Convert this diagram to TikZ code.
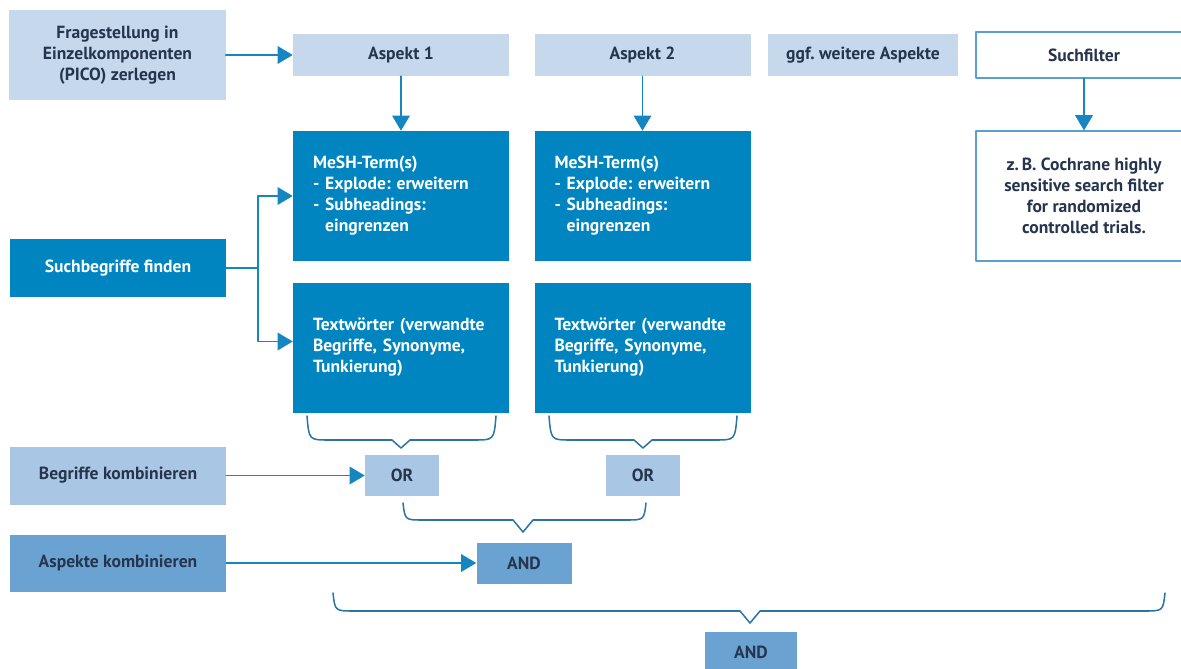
\documentclass[tikz,border=0pt]{standalone}
\usepackage{fontspec}
\setmainfont{PT Sans}
\usepackage{xcolor}
\usepackage{tikz}
\usetikzlibrary{arrows.meta}
\definecolor{hellblau}{HTML}{C6D9EC}
\definecolor{mittelhell}{HTML}{A9C7E5}
\definecolor{mittelblau}{HTML}{6AA3D2}
\definecolor{dunkelblau}{HTML}{0085C0}
\definecolor{pfeilblau}{HTML}{1686C1}
\definecolor{rahmenblau}{HTML}{5B9FD0}
\definecolor{schrift}{HTML}{26354D}
\definecolor{klammerblau}{HTML}{2C74A3}
\frenchspacing

\begin{document}
\begin{tikzpicture}[line cap=round,line join=round,x=0.03cm,y=-0.03cm,
		box/.style={minimum width=6.48cm,inner sep=0pt,font=\fontsize{15}{17.9}\selectfont\bfseries,text=schrift,align=center},
		hell/.style={box,fill=hellblau},
		mhell/.style={box,fill=mittelhell},
		mittel/.style={box,fill=mittelblau},
		dunkel/.style={box,fill=dunkelblau,text=white},
		liste/.style={dunkel,align=left,text width=5.28cm,inner xsep=0.6cm,minimum height=3.9cm},
		rahmen/.style={box,draw=rahmenblau,line width=0.9pt,fill=white},
		pfeil/.style={draw=pfeilblau,line width=1.6pt,-{Triangle[length=13pt,width=15pt]}},
		klammer/.style={draw=klammerblau,line width=1.3pt}]
		\useasboundingbox (0,0) rectangle (1181,668);
		% obere Reihe
		\node[hell,minimum height=2.7cm] (frage) at (117.5,55) {Fragestellung in\\Einzelkomponenten\\(PICO) zerlegen};
		\node[hell,minimum height=1.26cm] (asp1) at (401,55) {Aspekt 1};
		\node[hell,minimum height=1.26cm] (asp2) at (642.5,55) {Aspekt 2};
		\node[hell,minimum width=5.7cm,minimum height=1.26cm] (weitere) at (863,55) {ggf. weitere Aspekte};
		\node[rahmen,minimum height=1.38cm] (suchf) at (1084,55) {Suchfilter};
		\node[rahmen,minimum height=3.9cm] (filter) at (1084,196) {z.\,B. Cochrane highly\\sensitive search filter\\for randomized\\controlled trials.};
		% Suchbegriffe
		\node[dunkel,minimum height=1.74cm] (such) at (118,268) {Suchbegriffe finden};
		\node[liste] (mesh1) at (401,196) {MeSH-Term(s)\\- Explode: erweitern\\- Subheadings:\\\phantom{-}\ eingrenzen};
		\node[liste] (mesh2) at (642.5,196) {MeSH-Term(s)\\- Explode: erweitern\\- Subheadings:\\\phantom{-}\ eingrenzen};
		\node[liste] (wort1) at (401,347.5) {Textwörter (verwandte\\Begriffe, Synonyme,\\Tunkierung)};
		\node[liste] (wort2) at (642.5,347.5) {Textwörter (verwandte\\Begriffe, Synonyme,\\Tunkierung)};
		% kombinieren
		\node[mhell,minimum height=1.74cm] (begr) at (118,475.5) {Begriffe kombinieren};
		\node[mhell,minimum width=2.22cm,minimum height=1.23cm] (or1) at (402,475.5) {OR};
		\node[mhell,minimum width=2.22cm,minimum height=1.23cm] (or2) at (643,475.5) {OR};
		\node[mittel,minimum height=1.71cm] (aspk) at (118,563) {Aspekte kombinieren};
		\node[mittel,minimum width=2.85cm,minimum height=1.23cm] (and1) at (524,563) {AND};
		\node[mittel,minimum width=2.76cm,minimum height=1.23cm] (and2) at (751,652.5) {AND};
		% Pfeile
		\draw[pfeil] (frage.east) -- (asp1.west);
		\draw[pfeil] (asp1.south) -- (mesh1.north);
		\draw[pfeil] (asp2.south) -- (mesh2.north);
		\draw[pfeil] (suchf.south) -- (filter.north);
		\draw[pfeil] (such.east) -- ++(32,0) |- (mesh1.west);
		\draw[pfeil] (such.east) -- ++(32,0) |- ([yshift=0.18cm]wort1.west);
		\draw[pfeil] (begr.east) -- (or1.west);
		\draw[pfeil] (aspk.east) -- (and1.west);
		% Klammern
		\draw[klammer] (307,416) .. controls (309,440) .. (329,440) -- (392,440) -- (401,448) -- (410,440) -- (474,440) .. controls (494,440) .. (496,416);
		\draw[klammer] (549,416) .. controls (551,440) .. (571,440) -- (634,440) -- (643,448) -- (652,440) -- (715,440) .. controls (735,440) .. (737,416);
		\draw[klammer] (403,503) .. controls (405,520) .. (423,520) -- (513,520) -- (523,532) -- (533,520) -- (626,520) .. controls (644,520) .. (646,503);
		\draw[klammer] (333,593) .. controls (335,611) .. (354,611) -- (740,611) -- (750,623) -- (760,611) -- (1144,611) .. controls (1163,611) .. (1165,593);
	\end{tikzpicture}
\end{document}
